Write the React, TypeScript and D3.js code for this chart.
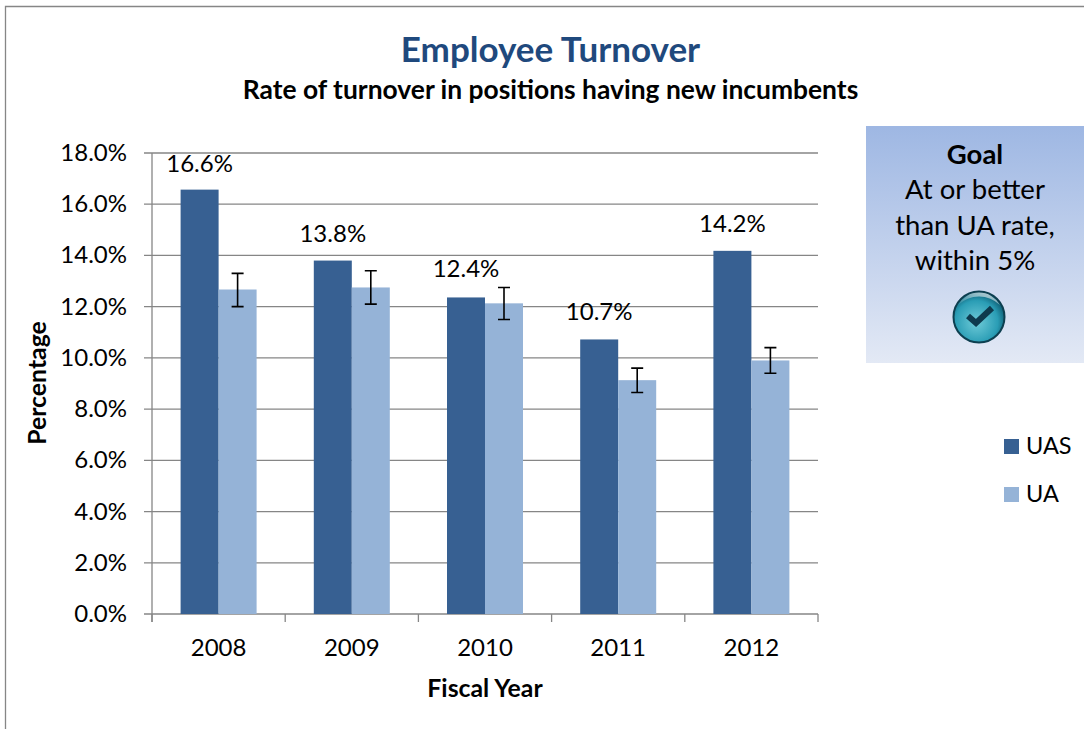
import React from "react";
import * as d3 from "d3";

const years = ["2008", "2009", "2010", "2011", "2012"];
const uas = [16.57, 13.8, 12.36, 10.72, 14.18];
const ua = [12.67, 12.75, 12.13, 9.13, 9.9];
const uaLow = [12.0, 12.1, 11.5, 8.65, 9.4];
const uaHigh = [13.3, 13.4, 12.75, 9.6, 10.4];
const uasLabels = ["16.6%", "13.8%", "12.4%", "10.7%", "14.2%"];
const labelOffsets = [18, 19, 20, 19, 19];
const yTicks = [0, 2, 4, 6, 8, 10, 12, 14, 16, 18];
const goalLines = ["At or better", "than UA rate,", "within 5%"];

const FONT = "Lato, 'Open Sans', sans-serif";
const AXIS = "#868686";
const W = 1084, H = 729;

export default function App() {
  const y = d3.scaleLinear().domain([0, 18]).range([614, 153]);
  const x = d3.scaleBand().domain(years).range([152, 818]);
  const barW = 38;
  return (
    <svg width={W} height={H} style={{ position: "absolute", left: 0, top: 0, background: "#fff", fontFamily: FONT }}>
      <defs>
        <linearGradient id="goalBg" x1="0" y1="0" x2="0" y2="1">
          <stop offset="0" stopColor="#9eb7e3" />
          <stop offset="1" stopColor="#e3e9f5" />
        </linearGradient>
        <radialGradient id="disc" cx="0.45" cy="0.6" r="0.6">
          <stop offset="0" stopColor="#6fcbd8" />
          <stop offset="0.7" stopColor="#2a9db5" />
          <stop offset="1" stopColor="#0c5a70" />
        </radialGradient>
        <linearGradient id="gloss" x1="1" y1="0" x2="0" y2="1">
          <stop offset="0" stopColor="#ffffff" stopOpacity="0.8" />
          <stop offset="1" stopColor="#ffffff" stopOpacity="0.05" />
        </linearGradient>
      </defs>

      <path d={`M5.5 ${H} V6.5 H${W}`} fill="none" stroke={AXIS} strokeWidth={1.3} />

      <text x={550.5} y={62} textAnchor="middle" fontSize={35} fontWeight={700} fill="#1f497d">Employee Turnover</text>
      <text x={550.5} y={99} textAnchor="middle" fontSize={26.4} fontWeight={700} fill="#000">Rate of turnover in positions having new incumbents</text>

      {yTicks.map((t) => (
        <g key={t}>
          <line x1={144} x2={818} y1={y(t)} y2={y(t)} stroke={AXIS} strokeWidth={1.3} />
          <text x={127} y={y(t) + 8} textAnchor="end" fontSize={24} fill="#000">{t.toFixed(1)}%</text>
        </g>
      ))}

      {years.map((yr, i) => {
        const x0 = x(yr)! + x.bandwidth() / 2 - barW;
        const cx = x0 + barW * 1.5;
        return (
          <g key={yr}>
            <rect x={x0} y={y(uas[i])} width={barW} height={614 - y(uas[i])} fill="#376092" />
            <rect x={x0 + barW} y={y(ua[i])} width={barW} height={614 - y(ua[i])} fill="#95b3d7" />
            <path
              d={`M${cx} ${y(uaLow[i])}V${y(uaHigh[i])}M${cx - 6} ${y(uaLow[i])}H${cx + 6}M${cx - 6} ${y(uaHigh[i])}H${cx + 6}`}
              stroke="#000" strokeWidth={1.6} fill="none"
            />
            <text x={x0 + barW / 2} y={y(uas[i]) - labelOffsets[i]} textAnchor="middle" fontSize={24} fill="#000">{uasLabels[i]}</text>
            <text x={x(yr)! + x.bandwidth() / 2} y={656} textAnchor="middle" fontSize={24} fill="#000">{yr}</text>
          </g>
        );
      })}

      <line x1={152} x2={152} y1={153} y2={622} stroke={AXIS} strokeWidth={1.3} />
      {d3.range(0, years.length + 1).map((i) => {
        const px = 152 + x.step() * i;
        return <line key={i} x1={px} x2={px} y1={614} y2={622} stroke={AXIS} strokeWidth={1.3} />;
      })}

      <text transform="translate(46,383) rotate(-90)" textAnchor="middle" fontSize={24.8} fontWeight={700} fill="#000">Percentage</text>
      <text x={485} y={697} textAnchor="middle" fontSize={24.8} fontWeight={700} fill="#000">Fiscal Year</text>

      <rect x={866} y={126} width={218} height={237} fill="url(#goalBg)" />
      <text x={975} y={164} textAnchor="middle" fontSize={27.5} fontWeight={700} fill="#000">Goal</text>
      {goalLines.map((l, i) => (
        <text key={l} x={975} y={199 + i * 35.5} textAnchor="middle" fontSize={27.5} fill="#000">{l}</text>
      ))}
      <circle cx={979} cy={317} r={25.5} fill="url(#disc)" stroke="#0d3f50" strokeWidth={2} />
      <path d="M958 305 A24 24 0 0 1 1000 305 A30 30 0 0 0 958 305 Z" fill="url(#gloss)" />
      <path d="M968 316 L976 323 L992 308" fill="none" stroke="#0e3a4d" strokeWidth={6} strokeLinejoin="miter" />

      <rect x={1004} y={439} width={15} height={15} fill="#376092" />
      <text x={1026} y={453.5} fontSize={23.5} fill="#000">UAS</text>
      <rect x={1004} y={487} width={15} height={15} fill="#95b3d7" />
      <text x={1026} y={502} fontSize={23.5} fill="#000">UA</text>
    </svg>
  );
}
